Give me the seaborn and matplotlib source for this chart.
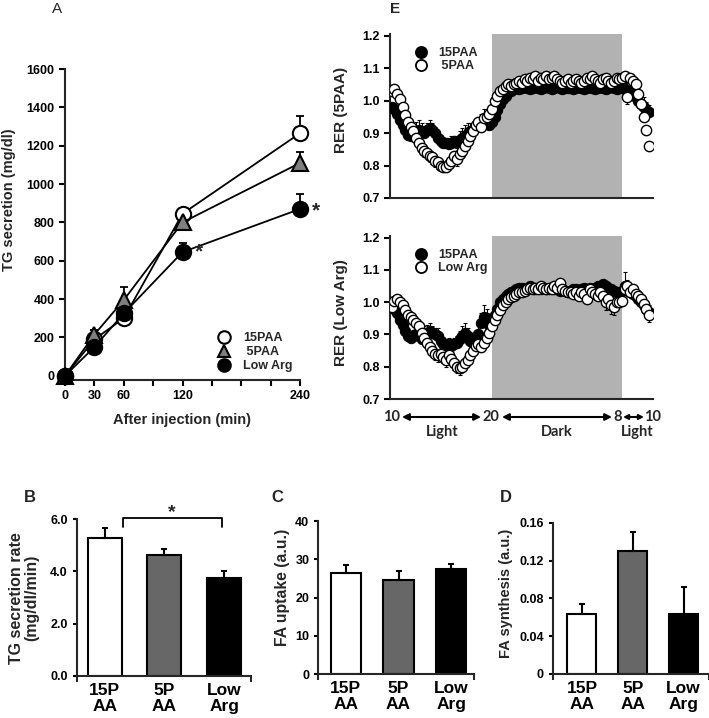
import numpy as np
import matplotlib
matplotlib.use('Agg')
from matplotlib import pyplot as plt
from matplotlib.lines import Line2D
import seaborn as sns

# panel A: TG secretion after injection
inj_time = [0, 30, 60, 120, 240]
tg_15paa = [0, 190, 300, 845, 1265]
tg_5paa = [0, 215, 395, 800, 1110]
tg_lowarg = [0, 150, 325, 645, 870]
tg_15paa_err = [0, 20, 25, 20, 92]
tg_5paa_err = [0, 25, 70, 25, 55]
tg_lowarg_err = [0, 15, 20, 45, 76]

# panels B-D
groups = ['15P\nAA', '5P\nAA', 'Low\nArg']
rate = [5.27, 4.63, 3.76]
rate_err = [0.38, 0.22, 0.27]
uptake = [26.5, 24.6, 27.5]
uptake_err = [1.9, 2.4, 1.3]
synth = [0.0635, 0.1304, 0.0635]
synth_err = [0.0105, 0.020, 0.028]

# panel E: RER, 15 min bins starting 10:45
rer_hours = 10.75 + 0.25 * np.arange(96)
top_15paa = [0.98, 0.975, 0.96, 0.94, 0.925, 0.91, 0.895, 0.89, 0.90, 0.905,
             0.91, 0.905, 0.90, 0.91, 0.915, 0.91, 0.90, 0.885, 0.875, 0.87,
             0.87, 0.865, 0.87, 0.875, 0.87, 0.88, 0.885, 0.89, 0.90, 0.905,
             0.91, 0.92, 0.925, 0.93, 0.935, 0.93, 0.925, 0.935, 0.95, 0.97,
             0.99, 1.005, 1.015, 1.025, 1.03, 1.035, 1.04, 1.035, 1.04, 1.045,
             1.04, 1.035, 1.04, 1.045, 1.04, 1.035, 1.04, 1.045, 1.04, 1.035,
             1.04, 1.045, 1.04, 1.035, 1.04, 1.04, 1.045, 1.035, 1.04, 1.045,
             1.04, 1.035, 1.04, 1.045, 1.04, 1.035, 1.04, 1.045, 1.04, 1.035,
             1.04, 1.045, 1.04, 1.035, 1.04, 1.04, 1.035, 1.03, 1.025, 1.02,
             1.01, 1.0, 0.99, 0.98, 0.97, 0.965]
top_15paa_err = [0.01, 0.01, 0.012, 0.012, 0.015, 0.015, 0.015, 0.02, 0.025, 0.03,
                 0.03, 0.025, 0.02, 0.02, 0.025, 0.02, 0.02, 0.02, 0.02, 0.015,
                 0.015, 0.02, 0.02, 0.015, 0.02, 0.025, 0.03, 0.035, 0.03, 0.025,
                 0.02, 0.02, 0.025, 0.03, 0.04, 0.045, 0.04, 0.03, 0.02, 0.015,
                 0.01, 0.01, 0.012, 0.01, 0.01, 0.012, 0.01, 0.01, 0.012, 0.01,
                 0.01, 0.012, 0.01, 0.01, 0.012, 0.01, 0.01, 0.012, 0.01, 0.01,
                 0.012, 0.01, 0.01, 0.012, 0.01, 0.01, 0.012, 0.01, 0.01, 0.012,
                 0.01, 0.01, 0.012, 0.01, 0.01, 0.012, 0.01, 0.01, 0.012, 0.01,
                 0.012, 0.01, 0.012, 0.015, 0.015, 0.02, 0.02, 0.025, 0.03, 0.03,
                 0.025, 0.025, 0.03, 0.03, 0.025, 0.02]
top_5paa = [1.03, 1.035, 1.02, 1.005, 0.98, 0.955, 0.935, 0.92, 0.905, 0.885,
            0.87, 0.855, 0.845, 0.84, 0.83, 0.825, 0.815, 0.81, 0.80, 0.795,
            0.795, 0.805, 0.815, 0.83, 0.82, 0.835, 0.845, 0.86, 0.875, 0.89,
            0.905, 0.925, 0.935, 0.92, 0.945, 0.95, 0.96, 0.975, 1.0, 1.015,
            1.03, 1.035, 1.045, 1.05, 1.045, 1.05, 1.055, 1.06, 1.055, 1.065,
            1.06, 1.07, 1.065, 1.075, 1.06, 1.07, 1.065, 1.075, 1.065, 1.07,
            1.075, 1.065, 1.06, 1.055, 1.06, 1.065, 1.055, 1.06, 1.065, 1.06,
            1.055, 1.06, 1.07, 1.065, 1.075, 1.065, 1.06, 1.055, 1.065, 1.07,
            1.06, 1.055, 1.06, 1.07, 1.065, 1.07, 1.075, 1.01, 1.07, 1.06,
            1.05, 1.02, 0.99, 0.95, 0.91, 0.86]
top_5paa_err = [0.01, 0.01, 0.012, 0.015, 0.015, 0.015, 0.015, 0.015, 0.02, 0.02,
                0.02, 0.02, 0.02, 0.02, 0.02, 0.02, 0.02, 0.02, 0.015, 0.015,
                0.015, 0.02, 0.02, 0.02, 0.02, 0.02, 0.02, 0.02, 0.02, 0.015,
                0.015, 0.015, 0.015, 0.015, 0.015, 0.015, 0.01, 0.01, 0.01, 0.01,
                0.01, 0.01, 0.01, 0.01, 0.01, 0.01, 0.01, 0.01, 0.01, 0.01,
                0.01, 0.01, 0.01, 0.01, 0.01, 0.01, 0.01, 0.01, 0.01, 0.01,
                0.01, 0.01, 0.01, 0.01, 0.01, 0.01, 0.01, 0.01, 0.01, 0.01,
                0.01, 0.01, 0.01, 0.01, 0.01, 0.01, 0.01, 0.01, 0.01, 0.01,
                0.01, 0.01, 0.01, 0.01, 0.01, 0.01, 0.015, 0.02, 0.015, 0.015,
                0.02, 0.02, 0.02, 0.015, 0.015, 0.015]
bot_15paa = [0.99, 0.98, 0.965, 0.945, 0.93, 0.91, 0.895, 0.89, 0.895, 0.90,
             0.895, 0.885, 0.895, 0.905, 0.91, 0.905, 0.90, 0.895, 0.88, 0.87,
             0.865, 0.87, 0.865, 0.87, 0.875, 0.885, 0.895, 0.905, 0.895, 0.88,
             0.875, 0.885, 0.90, 0.935, 0.955, 0.95, 0.93, 0.94, 0.96, 0.98,
             1.0, 1.01, 1.02, 1.025, 1.03, 1.035, 1.04, 1.045, 1.045, 1.04,
             1.045, 1.05, 1.045, 1.04, 1.045, 1.04, 1.045, 1.04, 1.04, 1.045,
             1.04, 1.04, 1.035, 1.04, 1.035, 1.03, 1.035, 1.04, 1.04, 1.035,
             1.04, 1.045, 1.04, 1.045, 1.04, 1.045, 1.05, 1.045, 1.055, 1.05,
             1.045, 1.04, 1.035, 1.03, 1.025, 1.035, 1.05, 1.04, 1.03, 1.025,
             1.02, 1.01, 1.0, 0.99, 0.98, 0.97]
bot_15paa_err = [0.01, 0.01, 0.01, 0.015, 0.015, 0.015, 0.02, 0.02, 0.02, 0.025,
                 0.03, 0.03, 0.03, 0.025, 0.025, 0.02, 0.02, 0.025, 0.02, 0.02,
                 0.02, 0.02, 0.02, 0.02, 0.02, 0.025, 0.03, 0.03, 0.025, 0.02,
                 0.02, 0.025, 0.03, 0.03, 0.035, 0.03, 0.02, 0.015, 0.01, 0.01,
                 0.01, 0.01, 0.01, 0.01, 0.01, 0.01, 0.01, 0.01, 0.01, 0.01,
                 0.01, 0.01, 0.01, 0.01, 0.01, 0.01, 0.01, 0.01, 0.01, 0.01,
                 0.01, 0.01, 0.01, 0.01, 0.01, 0.01, 0.01, 0.01, 0.01, 0.01,
                 0.01, 0.01, 0.01, 0.01, 0.01, 0.01, 0.01, 0.01, 0.01, 0.01,
                 0.01, 0.01, 0.012, 0.015, 0.015, 0.02, 0.045, 0.03, 0.025, 0.02,
                 0.02, 0.02, 0.02, 0.02, 0.02, 0.02]
bot_lowarg = [0.985, 1.005, 1.01, 1.0, 0.99, 0.975, 0.96, 0.955, 0.945, 0.935,
              0.925, 0.905, 0.89, 0.875, 0.86, 0.85, 0.84, 0.835, 0.84, 0.83,
              0.82, 0.835, 0.825, 0.81, 0.80, 0.795, 0.80, 0.81, 0.82, 0.835,
              0.85, 0.865, 0.87, 0.86, 0.875, 0.89, 0.905, 0.925, 0.945, 0.96,
              0.975, 0.99, 1.0, 1.01, 1.015, 1.02, 1.025, 1.03, 1.03, 1.035,
              1.04, 1.045, 1.04, 1.045, 1.04, 1.05, 1.045, 1.04, 1.045, 1.04,
              1.05, 1.045, 1.06, 1.04, 1.035, 1.03, 1.03, 1.025, 1.03, 1.02,
              1.03, 1.025, 1.01, 1.04, 1.03, 1.025, 1.02, 1.03, 1.02, 1.0,
              1.01, 0.99, 0.985, 1.0, 1.0, 1.005, 1.04, 1.05, 1.03, 1.04,
              1.025, 1.02, 1.01, 0.995, 0.98, 0.96]
bot_lowarg_err = [0.01, 0.01, 0.01, 0.01, 0.012, 0.012, 0.012, 0.015, 0.015, 0.015,
                  0.015, 0.015, 0.015, 0.015, 0.02, 0.02, 0.02, 0.02, 0.02, 0.02,
                  0.02, 0.02, 0.02, 0.02, 0.02, 0.02, 0.015, 0.015, 0.015, 0.015,
                  0.015, 0.015, 0.015, 0.015, 0.015, 0.015, 0.012, 0.01, 0.01, 0.01,
                  0.01, 0.01, 0.01, 0.01, 0.01, 0.01, 0.01, 0.01, 0.01, 0.01,
                  0.01, 0.01, 0.01, 0.01, 0.01, 0.01, 0.01, 0.01, 0.01, 0.01,
                  0.01, 0.01, 0.01, 0.01, 0.01, 0.01, 0.01, 0.01, 0.01, 0.01,
                  0.01, 0.01, 0.01, 0.01, 0.01, 0.01, 0.012, 0.015, 0.015, 0.025,
                  0.025, 0.027, 0.025, 0.015, 0.015, 0.015, 0.015, 0.015, 0.015, 0.015,
                  0.015, 0.015, 0.015, 0.02, 0.02, 0.02]

sns.set_style('ticks')
plt.rcParams['font.family'] = ['Liberation Sans', 'DejaVu Sans']
plt.rcParams['font.weight'] = 'bold'
plt.rcParams['axes.linewidth'] = 1.5
NARROW = ['Liberation Sans Narrow', 'Liberation Sans', 'DejaVu Sans']
W, H = 709, 718

fig = plt.figure(figsize=(W / 100, H / 100), dpi=100)


def rect(left, top, right, bottom):
    return [left / W, 1 - bottom / H, (right - left) / W, (bottom - top) / H]


def ftext(x, y, s, **kw):
    fig.text(x / W, 1 - y / H, s, **kw)


def clean(ax):
    sns.despine(ax=ax)
    ax.tick_params(axis='both', direction='out', width=1.5, length=4, colors='black')


# ---------------- A
axA = fig.add_axes(rect(65, 69, 300, 380))
series = [(tg_15paa, tg_15paa_err, 'o', 'white', '15PAA'),
          (tg_5paa, tg_5paa_err, '^', '#7f7f7f', ' 5PAA'),
          (tg_lowarg, tg_lowarg_err, 'o', 'black', 'Low Arg')]
handles = []
for vals, err, mk, fc, lab in series:
    axA.errorbar(inj_time, vals, yerr=[np.zeros(5), err], fmt='none', ecolor='black',
                 elinewidth=1.3, capsize=3, capthick=1.3, zorder=2, clip_on=False)
    sns.lineplot(x=inj_time, y=vals, color='black', lw=1.3, marker=mk, markersize=11,
                 markerfacecolor=fc, markeredgecolor='black', markeredgewidth=1.5,
                 ax=axA, zorder=3, clip_on=False)
    handles.append(Line2D([], [], ls='', marker=mk, markersize=9, markerfacecolor=fc,
                          markeredgecolor='black', markeredgewidth=1.5, label=lab))
axA.set_xlim(0, 240)
axA.set_ylim(-22, 1600)
axA.set_yticks(range(0, 1601, 200))
axA.set_xticks(range(0, 241, 30))
axA.set_xticklabels(['0', '30', '60', '', '120', '', '', '', '240'])
axA.tick_params(labelsize=9)
clean(axA)
axA.legend(handles=handles, loc='lower right', bbox_to_anchor=(0.99, 0.01), frameon=False,
           fontsize=9, handletextpad=0.5, labelspacing=0.15, borderaxespad=0)
axA.text(137, 648, '*', fontsize=15, ha='center', va='center')
axA.text(256, 862, '*', fontsize=15, ha='center', va='center')
ftext(57, 9, 'A', fontsize=11, fontweight='normal', ha='center', va='center')
ftext(9, 200, 'TG secretion (mg/dl)', fontsize=10.5, rotation=90, ha='center', va='center')
ftext(182, 420, 'After injection (min)', fontsize=10.5, ha='center', va='center')


# ---------------- E
def rer_panel(box, bvals, berr, wvals, werr, labels, ylabel, ylab_y):
    ax = fig.add_axes(box)
    ax.axvspan(20, 32, color='#b2b2b2', lw=0, zorder=0)
    z = np.zeros(len(rer_hours))
    ax.errorbar(rer_hours, bvals, yerr=[z, berr], fmt='none', ecolor='black',
                elinewidth=0.8, capsize=1.5, capthick=0.8, zorder=1)
    ax.errorbar(rer_hours, wvals, yerr=[werr, z], fmt='none', ecolor='black',
                elinewidth=0.8, capsize=1.5, capthick=0.8, zorder=1)
    sns.scatterplot(x=rer_hours, y=bvals, color='black', edgecolor='black', s=55,
                    linewidth=0.8, ax=ax, zorder=3)
    sns.scatterplot(x=rer_hours, y=wvals, color='white', edgecolor='black', s=55,
                    linewidth=1.0, ax=ax, zorder=4)
    ax.set_xlim(10.585, 34.86)
    ax.set_ylim(0.7, 1.205)
    ax.set_yticks([0.7, 0.8, 0.9, 1.0, 1.1, 1.2])
    ax.set_yticklabels(['0.7', '0.8', '0.9', '1.0', '1.1', '1.2'])
    ax.set_xticks([])
    clean(ax)
    ax.tick_params(labelsize=9)
    hs = [Line2D([], [], ls='', marker='o', markersize=8, markerfacecolor=c,
                 markeredgecolor='black', markeredgewidth=1.3, label=l)
          for c, l in zip(['black', 'white'], labels)]
    ax.legend(handles=hs, loc='upper left', bbox_to_anchor=(0.05, 0.95), frameon=False,
              fontsize=9, handletextpad=0.4, labelspacing=0.1, borderaxespad=0)
    ftext(341, ylab_y, ylabel, fontsize=11, rotation=90, ha='center', va='center')
    return ax


rer_panel(rect(390, 34, 653, 198), top_15paa, top_15paa_err, top_5paa, top_5paa_err,
          ['15PAA', ' 5PAA'], 'RER (5PAA)', 110)
rer_panel(rect(390, 236, 653, 399), bot_15paa, bot_15paa_err, bot_lowarg, bot_lowarg_err,
          ['15PAA', 'Low Arg'], 'RER (Low Arg)', 313)
ftext(395, 9, 'E', fontsize=11, ha='center', va='center')

LATO = ['Lato', 'Liberation Sans']
for x, s in [(392, '10'), (491, '20'), (618, '8'), (653, '10')]:
    ftext(x, 417, s, fontsize=10.5, family=LATO, ha='center', va='center')
for x, s in [(442, 'Light'), (557, 'Dark'), (637, 'Light')]:
    ftext(x, 432, s, fontsize=10.5, family=LATO, ha='center', va='center')
for x0, x1, ms in [(402, 481, 10), (502, 612, 10), (623, 644, 7)]:
    fig.add_artist(matplotlib.patches.FancyArrowPatch(
        (x0 / W, 1 - 417 / H), (x1 / W, 1 - 417 / H), transform=fig.transFigure,
        arrowstyle='<|-|>', mutation_scale=ms, lw=1.5, color='black',
        shrinkA=0, shrinkB=0))


# ---------------- B, C, D
def bar_panel(box, vals, errs, ylim, yticks, yticklabels, xlim):
    ax = fig.add_axes(box)
    sns.barplot(x=groups, y=vals, hue=groups, palette=['white', '#676767', 'black'],
                saturation=1, legend=False, edgecolor='black', linewidth=1.5,
                width=0.57, ax=ax, zorder=2)
    ax.errorbar(range(3), vals, yerr=[np.zeros(3), errs], fmt='none', ecolor='black',
                elinewidth=1.5, capsize=2.5, capthick=1.5, zorder=3)
    ax.set_xlim(*xlim)
    ax.set_ylim(*ylim)
    ax.set_yticks(yticks)
    ax.set_yticklabels(yticklabels)
    ax.set_xlabel('')
    ax.set_ylabel('')
    clean(ax)
    ax.tick_params(axis='y', labelsize=9, length=3)
    ax.tick_params(axis='x', length=0, pad=5)
    ax.set_xticks(xlim, minor=True)
    ax.tick_params(axis='x', which='minor', length=4, width=1.5, direction='out')
    for t in ax.get_xticklabels():
        t.set_fontfamily(NARROW)
        t.set_fontsize(12.5)
        t.set_fontweight('bold')
        t.set_linespacing(1.1)
    return ax


axB = bar_panel(rect(76.7, 519.3, 251, 675.7), rate, rate_err, (0, 6),
                [0, 2, 4, 6], ['0.0', '2.0', '4.0', '6.0'], (-0.47, 2.45))
axB.plot([0.3, 0.3, 1.97, 1.97], [5.69, 6.04, 6.04, 5.69], color='black', lw=1.3,
         clip_on=False)
axB.text(1.13, 6.25, '*', fontsize=14, ha='center', va='center')
ftext(24, 598, 'TG secretion rate\n(mg/dl/min)', fontsize=11.5, rotation=90,
      ha='center', va='center', linespacing=1.05)
ftext(30, 497, 'B', fontsize=12, family=NARROW, ha='center', va='center')

bar_panel(rect(318.3, 521, 474, 674.3), uptake, uptake_err, (0, 40),
          [0, 10, 20, 30, 40], ['0', '10', '20', '30', '40'], (-0.52, 2.43))
ftext(282, 587, 'FA uptake (a.u.)', fontsize=11.3, rotation=90, ha='center', va='center')
ftext(277, 497, 'C', fontsize=12, family=NARROW, ha='center', va='center')

bar_panel(rect(553, 522.7, 709, 674), synth, synth_err, (0, 0.16),
          [0, 0.04, 0.08, 0.12, 0.16], ['0', '0.04', '0.08', '0.12', '0.16'], (-0.57, 2.5))
ftext(506, 593, 'FA synthesis (a.u.)', fontsize=10.5, rotation=90, ha='center', va='center')
ftext(506, 497, 'D', fontsize=12, family=NARROW, ha='center', va='center')

fig.savefig('out.png', dpi=100)
